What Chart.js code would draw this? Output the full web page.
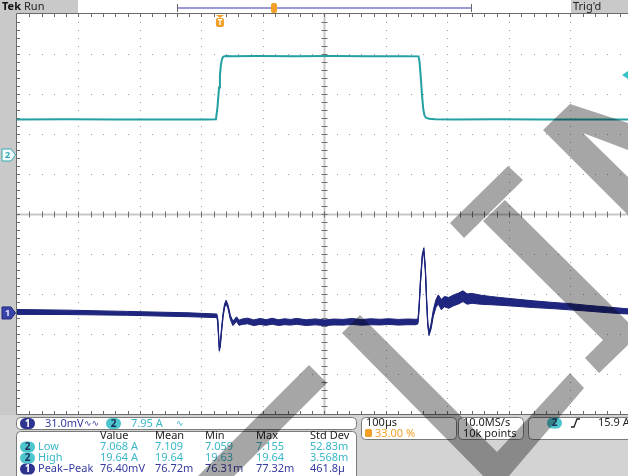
<!DOCTYPE html>
<html>
<head>
<meta charset="utf-8">
<script src="https://cdn.jsdelivr.net/npm/chart.js@4.4.1/dist/chart.umd.min.js"></script>
<style>
html, body { margin: 0; padding: 0; background: #fff; overflow: hidden; }
canvas { display: block; }
</style>
</head>
<body>
<canvas id="scope" width="628" height="476"></canvas>
<script>
// timebase: 100 us/div, trigger at 33 % of the screen
const timePerDiv = 100;
const xMin = -330;
const xMax = 663.5;   // screen is cut at the right edge

// channel 2 (current), 7.95 A/div, ground marker 3.525 div below top
const ch2Min = -51.48;
const ch2Max = 28.02;
const trigLevel = 15.9;

// channel 1 (ripple), 31.0 mV/div, ground marker 7.475 div below top
const ch1Min = -78.3;
const ch1Max = 231.7;

const ch2Time = [-330, -250, -170, -90, -20, -6.5, -4, -1.5, 0, 1.5, 3, 4.5, 6.5, 10, 20, 60, 120, 180, 240, 300,
                 323, 324.5, 326.5, 328.5, 330.5, 332.5, 335, 340, 350, 380, 450, 520, 600, 663.5];
const ch2Amps = [7.06, 7.08, 7.05, 7.07, 7.06, 7.08, 9.5, 13.4, 15.9, 17.8, 18.9, 19.4, 19.6, 19.68, 19.62, 19.66, 19.63, 19.65, 19.62, 19.64,
                 19.6, 18.6, 15.5, 12, 9.2, 7.9, 7.4, 7.2, 7.1, 7.06, 7.08, 7.05, 7.07, 7.06];

const ch1Time = [-330, -250, -150, -50, -5, -3.5, -2, -1, 0.5, 2.5, 5, 7.5, 10, 13, 17, 21, 24, 27, 31, 36,
                 45, 55, 65, 75, 85, 95, 105, 115, 125, 140, 155, 170, 185, 200, 215, 230, 245, 260, 275, 290,
                 305, 318, 322, 323.5, 326, 329, 331.5, 334, 336, 338, 340, 343, 347, 351, 355, 360, 365, 372, 380, 388,
                 395, 402, 410, 425, 440, 455, 480, 510, 540, 570, 600, 630, 663.5];
// centre of the persistence band, mV
const ch1Mid = [0.8, 0.5, -0.3, -1.4, -2.2, -6, -20, -28, -25, -14, -2, 5.5, 8.5, 5, -3.5, -8, -6.5, -4.8, -7.6, -6.8,
                -6.2, -7.6, -6.6, -7.4, -6.4, -7.5, -6.8, -7.2, -6.5, -7.5, -6.9, -7.6, -7.0, -7.2, -6.6, -7.3, -6.8, -7.1, -6.7, -7.2,
                -6.9, -7.0, -6.6, 2, 24, 44, 49, 34, 10, -9, -16, -11, 0, 7, 10.5, 6.5, 8.8, 7.8, 9.8, 11.2,
                13, 10.8, 11.3, 10.2, 9.6, 9, 8, 6.8, 5.8, 4.8, 3.6, 2.4, 1.2];
// half thickness of the band, mV
const ch1Half = [1.9, 1.7, 1.5, 1.5, 1.4, 1.4, 1.4, 1.4, 1.4, 1.4, 1.4, 1.4, 1.4, 1.4, 1.6, 1.8, 1.8, 1.8, 2, 2.1,
                 2.2, 2.2, 2.3, 2.2, 2.3, 2.2, 2.3, 2.2, 2.3, 2.2, 2.3, 2.2, 2.3, 2.2, 2.3, 2.2, 2.3, 2.2, 2.2, 2.2,
                 2.2, 2.1, 1.8, 1.4, 1.4, 1.4, 1.4, 1.4, 1.4, 1.4, 1.4, 2, 2.5, 3, 3.5, 4, 4, 4.2, 4.2, 4.2,
                 4.2, 4, 3.8, 3.5, 3.2, 3, 2.8, 2.6, 2.4, 2.4, 2.2, 2.2, 2];

// readouts
const measHeaders = ['Value', 'Mean', 'Min', 'Max', 'Std Dev'];
const lowValues = ['7.068 A', '7.109', '7.059', '7.155', '52.83m'];
const highValues = ['19.64 A', '19.64', '19.63', '19.64', '3.568m'];
const ppValues = ['76.40mV', '76.72m', '76.31m', '77.32m', '461.8\u00b5'];
const measCols = [100, 155, 205, 256, 310];

const FONT = '"Noto Sans", "DejaVu Sans", sans-serif';
const TEAL_TXT = '#3ab7c9';
const BLUE_TXT = '#353b9e';
const ORANGE = '#f2a027';

function roundBox(ctx, x, y, w, h, r, fill, stroke) {
    ctx.beginPath();
    ctx.roundRect(x, y, w, h, r);
    if (fill) { ctx.fillStyle = fill; ctx.fill(); }
    if (stroke) { ctx.strokeStyle = stroke; ctx.lineWidth = 1; ctx.stroke(); }
}

function text(ctx, s, x, y, color, size, weight) {
    ctx.font = (weight || 'normal') + ' ' + (size || 11) + 'px ' + FONT;
    ctx.fillStyle = color;
    ctx.textBaseline = 'middle';
    ctx.textAlign = 'left';
    ctx.fillText(s, x, y);
}

function pill(ctx, x, y, label, bg, fg) {
    roundBox(ctx, x, y - 5.5, 15, 11, 5.5, bg);
    ctx.font = 'bold 10px ' + FONT;
    ctx.fillStyle = fg;
    ctx.textAlign = 'center';
    ctx.textBaseline = 'middle';
    ctx.fillText(label, x + 7.5, y + 0.5);
}

function drawGraticule(ctx, chart) {
    const a = chart.chartArea;
    const xs = chart.scales.x;
    const gx = k => xs.getPixelForValue(xMin + k * timePerDiv);
    const divW = gx(1) - gx(0);
    const divH = (a.bottom - a.top) / 10;
    const L = gx(0), R = gx(10), T = a.top, B = a.bottom;

    // dotted division lines
    ctx.fillStyle = '#9c9c9c';
    for (let k = 1; k < 10; k++) {
        if (k === 5) continue;
        const x = Math.round(gx(k));
        for (let j = 1; j < 50; j++) ctx.fillRect(x, Math.round(T + j * divH / 5), 1, 1);
        const y = Math.round(T + k * divH);
        for (let i = 1; i < 50; i++) ctx.fillRect(Math.round(L + i * divW / 5), y, 1, 1);
    }

    // centre cross
    const cx = Math.round(gx(5)) + 0.5, cy = Math.round(T + 5 * divH) + 0.5;
    ctx.strokeStyle = '#c8c8c8';
    ctx.lineWidth = 2;
    ctx.beginPath();
    ctx.moveTo(cx, T); ctx.lineTo(cx, B);
    ctx.moveTo(L, cy); ctx.lineTo(R, cy);
    ctx.stroke();
    ctx.strokeStyle = '#707070';
    ctx.lineWidth = 1;
    ctx.beginPath();
    for (let i = 1; i < 50; i++) {
        const x = Math.round(L + i * divW / 5) + 0.5;
        ctx.moveTo(x, cy - 3); ctx.lineTo(x, cy + 3);
        const y = Math.round(T + i * divH / 5) + 0.5;
        ctx.moveTo(cx - 3, y); ctx.lineTo(cx + 3, y);
    }
    ctx.stroke();

    // border with ticks
    ctx.strokeStyle = '#6a6a6a';
    ctx.beginPath();
    ctx.moveTo(L - 0.5, T - 0.5); ctx.lineTo(R, T - 0.5);
    ctx.moveTo(L - 0.5, T - 0.5); ctx.lineTo(L - 0.5, B + 0.5);
    ctx.moveTo(L - 0.5, B + 0.5); ctx.lineTo(R, B + 0.5);
    for (let i = 1; i < 50; i++) {
        const x = Math.round(L + i * divW / 5) + 0.5;
        ctx.moveTo(x, T); ctx.lineTo(x, T + 3);
        ctx.moveTo(x, B); ctx.lineTo(x, B - 3);
        const y = Math.round(T + i * divH / 5) + 0.5;
        ctx.moveTo(L, y); ctx.lineTo(L + 3, y);
    }
    ctx.stroke();
}

function chMarker(ctx, y, label, fill, stroke, fg) {
    ctx.beginPath();
    ctx.moveTo(2, y - 6); ctx.lineTo(11, y - 6); ctx.lineTo(15.5, y);
    ctx.lineTo(11, y + 6); ctx.lineTo(2, y + 6); ctx.closePath();
    ctx.fillStyle = fill; ctx.fill();
    ctx.strokeStyle = stroke; ctx.lineWidth = 1; ctx.stroke();
    ctx.font = 'bold 9px ' + FONT;
    ctx.fillStyle = fg; ctx.textAlign = 'center'; ctx.textBaseline = 'middle';
    ctx.fillText(label, 7.5, y + 0.5);
}

const screenPlugin = {
    id: 'screen',
    beforeDraw(chart) {
        const ctx = chart.ctx;
        const a = chart.chartArea;
        ctx.save();
        ctx.fillStyle = '#fff';
        ctx.fillRect(0, 0, chart.width, chart.height);
        ctx.fillStyle = '#c9c9c9';
        ctx.fillRect(0, 0, 78, a.top);
        ctx.fillRect(571, 0, chart.width - 571, a.top);
        ctx.fillRect(0, a.top, a.left - 1, a.bottom - a.top + 2);
        ctx.fillStyle = '#d3d3d3';
        ctx.fillRect(0, a.bottom + 1, chart.width, chart.height - a.bottom);
        drawGraticule(ctx, chart);
        ctx.restore();
    },
    afterDatasetsDraw(chart) {
        const ctx = chart.ctx;
        const a = chart.chartArea;
        const xs = chart.scales.x;
        ctx.save();

        // top bar
        text(ctx, 'Tek', 2, 7, '#111', 11, 'bold');
        text(ctx, 'Run', 24, 7, '#222', 11);
        text(ctx, "Trig'd", 573, 7, '#222', 11);
        ctx.strokeStyle = '#9a9ad8'; ctx.lineWidth = 2;
        ctx.beginPath(); ctx.moveTo(178, 8); ctx.lineTo(471, 8); ctx.stroke();
        ctx.strokeStyle = '#666'; ctx.lineWidth = 1;
        ctx.beginPath();
        ctx.moveTo(177.5, 4); ctx.lineTo(177.5, 12);
        ctx.moveTo(471.5, 4); ctx.lineTo(471.5, 12);
        ctx.stroke();
        roundBox(ctx, 271, 3, 6, 10, 2, ORANGE);

        // trigger position marker
        const tx = xs.getPixelForValue(0);
        ctx.fillStyle = ORANGE;
        ctx.beginPath();
        ctx.moveTo(tx - 4, a.top + 1); ctx.lineTo(tx + 4, a.top + 1); ctx.lineTo(tx, a.top + 4); ctx.closePath();
        ctx.fill();
        roundBox(ctx, tx - 4, a.top + 4, 8, 9, 2, ORANGE);
        ctx.font = 'bold 8px ' + FONT; ctx.fillStyle = '#fff';
        ctx.textAlign = 'center'; ctx.textBaseline = 'middle';
        ctx.fillText('T', tx, a.top + 9);

        // trigger level arrow
        const ty = chart.scales.yA.getPixelForValue(trigLevel);
        ctx.fillStyle = '#3cc0c8';
        ctx.beginPath();
        ctx.moveTo(chart.width, ty - 4); ctx.lineTo(chart.width - 6, ty); ctx.lineTo(chart.width, ty + 4); ctx.closePath();
        ctx.fill();

        // channel ground markers
        chMarker(ctx, chart.scales.yA.getPixelForValue(0), '2', '#f4fbfb', '#36aab4', '#36aab4');
        chMarker(ctx, chart.scales.yV.getPixelForValue(0), '1', '#3a44a8', '#20287c', '#e8e8ff');

        // vertical readout
        roundBox(ctx, 16.5, 417.5, 340, 12, 4, '#fff', '#7a7a7a');
        pill(ctx, 20, 423.5, '1', '#2d3490', '#fff');
        text(ctx, '31.0mV', 45, 423.5, BLUE_TXT, 11);
        text(ctx, '\u223f\u223f', 84, 423.5, BLUE_TXT, 9);
        pill(ctx, 106, 423.5, '2', '#4cc5cd', '#1d2f5a');
        text(ctx, '7.95 A', 131, 423.5, TEAL_TXT, 11);
        text(ctx, '\u223f', 176, 423.5, TEAL_TXT, 9);

        // measurement table
        roundBox(ctx, 16.5, 431.5, 340, 50, 4, '#fff', '#7a7a7a');
        measHeaders.forEach((h, i) => text(ctx, h, measCols[i], 436, '#222', 11));
        pill(ctx, 20, 447, '2', '#4cc5cd', '#1d2f5a');
        text(ctx, 'Low', 38, 447, TEAL_TXT, 11);
        lowValues.forEach((v, i) => text(ctx, v, measCols[i], 447, TEAL_TXT, 11));
        pill(ctx, 20, 458, '2', '#4cc5cd', '#1d2f5a');
        text(ctx, 'High', 38, 458, TEAL_TXT, 11);
        highValues.forEach((v, i) => text(ctx, v, measCols[i], 458, TEAL_TXT, 11));
        pill(ctx, 20, 469, '1', '#2d3490', '#fff');
        text(ctx, 'Peak\u2013Peak', 38, 469, BLUE_TXT, 11);
        ppValues.forEach((v, i) => text(ctx, v, measCols[i], 469, BLUE_TXT, 11));

        // horizontal readout
        roundBox(ctx, 361.5, 417.5, 95, 22, 4, '#fff', '#7a7a7a');
        text(ctx, '100\u00b5s', 366, 423, '#222', 11);
        roundBox(ctx, 365, 429, 7, 8, 1.5, ORANGE);
        text(ctx, '33.00 %', 375, 433.5, ORANGE, 11);

        roundBox(ctx, 458.5, 417.5, 65, 22, 4, '#fff', '#7a7a7a');
        text(ctx, '10.0MS/s', 463, 423, '#222', 11);
        text(ctx, '10k points', 463, 433.5, '#222', 11);

        // trigger readout
        roundBox(ctx, 528.5, 417.5, 110, 22, 4, '#fff', '#7a7a7a');
        pill(ctx, 547, 423, '2', '#4cc5cd', '#1d2f5a');
        ctx.strokeStyle = '#222'; ctx.lineWidth = 1.3;
        ctx.beginPath();
        ctx.moveTo(571, 427); ctx.lineTo(574, 427); ctx.lineTo(577, 419); ctx.lineTo(580, 419);
        ctx.stroke();
        text(ctx, '15.9 A', 598, 423, '#222', 11);

        ctx.restore();
    },
    afterDraw(chart) {
        // document watermark
        const ctx = chart.ctx;
        const shapes = [
            [[450, 223], [508, 166], [523, 180], [464, 238]],
            [[483, 221], [505, 200], [628, 322], [628, 345], [599, 373], [585, 358], [603, 340]],
            [[543, 130], [570, 104], [628, 123], [628, 150], [583, 133], [628, 177], [628, 215]],
            [[342, 333], [360, 315], [497, 452], [570, 373], [584, 388], [497, 490]],
            [[309, 365], [327, 383], [234, 476], [198, 476]]
        ];
        ctx.save();
        ctx.globalCompositeOperation = 'multiply';
        ctx.fillStyle = '#a6a6a6';
        shapes.forEach(s => {
            ctx.beginPath();
            s.forEach((p, i) => i ? ctx.lineTo(p[0], p[1]) : ctx.moveTo(p[0], p[1]));
            ctx.closePath();
            ctx.fill();
        });
        ctx.restore();
    }
};

const ch2Points = ch2Time.map((t, i) => ({ x: t, y: ch2Amps[i] }));
const ch1Upper = ch1Time.map((t, i) => ({ x: t, y: ch1Mid[i] + ch1Half[i] }));
const ch1Lower = ch1Time.map((t, i) => ({ x: t, y: ch1Mid[i] - ch1Half[i] }));
const ch1Centre = ch1Time.map((t, i) => ({ x: t, y: ch1Mid[i] }));

new Chart(document.getElementById('scope'), {
    type: 'line',
    data: {
        datasets: [
            {
                label: 'Ch2',
                data: ch2Points,
                yAxisID: 'yA',
                borderColor: '#23a0a2',
                borderWidth: 2,
                pointRadius: 0,
                fill: false
            },
            {
                label: 'Ch1 max',
                data: ch1Upper,
                yAxisID: 'yV',
                borderColor: '#1c2377',
                borderWidth: 1,
                pointRadius: 0,
                fill: false
            },
            {
                label: 'Ch1 min',
                data: ch1Lower,
                yAxisID: 'yV',
                borderColor: '#1c2377',
                backgroundColor: '#1f2680',
                borderWidth: 1,
                pointRadius: 0,
                fill: '-1'
            },
            {
                label: 'Ch1',
                data: ch1Centre,
                yAxisID: 'yV',
                borderColor: '#4049b8',
                borderWidth: 1.2,
                pointRadius: 0,
                fill: false
            }
        ]
    },
    options: {
        responsive: false,
        animation: false,
        parsing: false,
        layout: { padding: { left: 17, top: 14, right: 0, bottom: 62 } },
        scales: {
            x: { type: 'linear', min: xMin, max: xMax, display: false },
            yA: { type: 'linear', min: ch2Min, max: ch2Max, display: false },
            yV: { type: 'linear', min: ch1Min, max: ch1Max, display: false }
        },
        plugins: {
            legend: { display: false },
            tooltip: { enabled: false }
        }
    },
    plugins: [screenPlugin]
});
</script>
</body>
</html>
